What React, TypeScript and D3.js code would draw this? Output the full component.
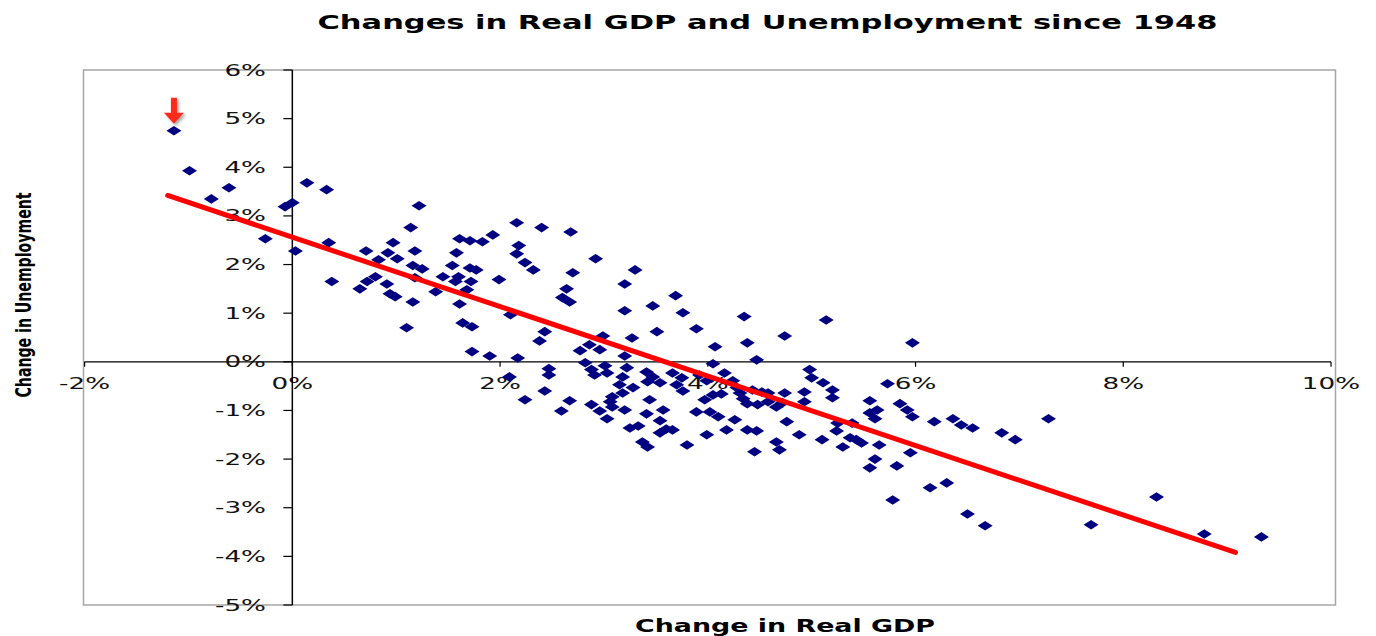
import React from "react";
import * as d3 from "d3";

// Change in real GDP (%) for each observation
const gdpChange = [
  -1.14, -0.99, -0.61, -0.78, -0.07, 0.0, -0.26, 0.03, 0.14, 0.33, 0.35, 0.38, 0.65, 0.71, 0.72, 0.8, 0.83, 0.91,
  0.92, 0.97, 1.01, 0.94, 0.99, 1.14, 1.22, 1.18, 1.16, 1.25, 1.18, 1.16, 1.1, 1.38, 1.45, 1.54, 1.61, 1.71, 1.83, 1.93,
  1.58, 1.6, 1.57, 1.72, 1.71, 1.77, 1.68, 1.61, 1.64, 1.73, 1.73, 1.9, 1.99,
  2.1, 2.16, 2.4, 2.68, 2.18, 2.16, 2.24, 2.32, 2.17, 2.43, 2.38, 2.7, 2.64, 2.6, 2.67, 2.92, 3.2, 3.3, 3.2, 2.99,
  2.77, 2.86, 2.96, 3.27, 3.2, 3.69, 3.47, 3.76, 3.51, 3.89, 4.07, 4.05,
  4.35, 5.14, 4.74, 4.38, 5.97, 4.47,
  2.09, 2.24, 2.43, 2.47, 2.47, 2.59, 2.67, 2.82, 2.88, 2.91, 3.01, 3.03, 3.18, 3.22, 3.15, 3.28, 3.18, 3.08, 3.06, 2.88,
  2.96, 3.08, 3.03, 3.2, 3.25, 3.33, 3.41, 3.47, 3.54, 3.42, 3.44, 3.41, 3.57, 3.54, 3.37, 3.42, 3.54, 3.6, 3.66,
  3.66, 3.75, 3.7, 3.76, 3.92, 3.99, 4.16, 4.24, 4.28, 4.31, 4.34, 4.38, 4.43, 4.52, 4.58, 4.48, 4.58, 4.66, 4.72, 4.74,
  3.97, 4.05, 4.13, 3.89, 4.02, 4.1, 4.26, 4.76, 3.99, 4.18, 4.38, 4.47, 3.8, 4.66, 4.69, 4.45, 4.88,
  4.98, 5.0, 5.11, 5.2, 5.2, 4.93, 4.93, 5.56, 5.73, 5.85, 5.92, 5.97, 5.63, 5.56, 5.61, 6.18, 6.36, 6.44, 6.55, 5.25,
  5.24, 5.39, 5.1, 5.37, 5.43, 5.48, 5.3, 5.65, 5.95, 5.61, 5.56, 5.82, 5.78, 6.14, 6.3, 6.5, 6.67, 6.83, 6.96, 7.28,
  7.69, 8.32, 8.78, 9.33,
];

// Change in unemployment (%) for each observation
const unempChange = [
  4.75, 3.93, 3.58, 3.35, 3.19, 3.27, 2.53, 2.28, 3.68, 3.54, 2.45, 1.65, 1.5, 2.28, 1.65, 1.75, 2.1, 1.6,
  2.24, 2.45, 2.12, 1.4, 1.34, 2.76, 3.21, 2.28, 1.98, 1.91, 1.73, 1.23, 0.7, 1.44, 1.75, 1.98, 2.53, 2.49, 2.47, 2.61,
  2.24, 1.75, 1.65, 1.65, 1.93, 1.89, 1.48, 1.19, 0.8, 0.72, 0.21, 0.12, 1.69,
  0.97, 2.86, 2.76, 2.67, 2.39, 2.22, 2.04, 1.89, 0.08, 0.62, 0.43, 1.83, 1.5, 1.32, 1.23, 2.12, 1.6, 1.89, 1.05, 0.53,
  0.23, 0.35, 0.25, 0.49, 0.12, 1.36, 1.15, 1.01, 0.62, 0.68, 0.31, -0.04,
  0.93, 0.86, 0.53, 0.39, 0.39, 0.04,
  -0.31, -0.78, -0.6, -0.14, -0.27, -1.01, -0.8, -0.02, -0.16, -0.27, -0.08, -0.23, -0.31, -0.12, -0.47, -0.53, -0.64, -0.72, -0.82, -0.88,
  -1.01, -0.93, -1.17, -0.99, -1.36, -1.32, -0.21, -0.31, -0.43, -0.41, -0.78, -1.07, -0.99, -1.21, -1.65, -1.75, -1.46, -1.38, -1.4,
  -0.23, -0.33, -0.47, -0.6, -0.27, -0.39, -0.23, -0.39, -0.53, -0.64, -0.76, -0.86, -0.58, -0.62, -0.64, -0.88, -0.82, -0.93, -0.84, -0.64,
  -0.78, -0.68, -0.66, -1.03, -1.03, -1.13, -1.19, -1.23, -1.5, -1.4, -1.4, -1.42, -1.71, -1.65, -1.81, -1.85, -1.5,
  -0.16, -0.33, -0.43, -0.58, -0.74, -0.62, -0.82, -0.8, -0.45, -0.86, -0.99, -1.13, -0.99, -1.05, -1.17, -1.23, -1.17, -1.3, -1.36, -1.26,
  -1.42, -1.26, -1.6, -1.56, -1.6, -1.67, -1.75, -1.71, -1.87, -2.0, -2.18, -2.14, -2.84, -2.59, -2.49, -3.13, -3.37, -1.46, -1.6, -1.17,
  -3.35, -2.78, -3.54, -3.6,
];

// Fitted trend line end points (GDP %, unemployment %)
const trendGdp = [-1.2, 9.08];
const trendUnemp = [3.42, -3.92];

// Highlighted observation (red arrow)
const highlightGdp = -1.14;
const highlightUnemp = 4.75;

const xTickValues = [-2, 0, 2, 4, 6, 8, 10];
const yTickValues = [6, 5, 4, 3, 2, 1, 0, -1, -2, -3, -4, -5];

const titleText = "Changes in Real GDP and Unemployment since 1948";
const xAxisTitle = "Change in Real GDP";
const yAxisTitle = "Change in Unemployment";

const W = 1376;
const H = 636;
const SX = 1.75; // horizontal stretch of the text glyphs

export default function App() {
  const x = d3.scaleLinear().domain([-2, 10]).range([84.6, 1331]);
  const y = d3.scaleLinear().domain([-5, 6]).range([605, 70]);

  const points = gdpChange.map((g, i) => ({ g, u: unempChange[i] }));
  const line = d3
    .line<number>()
    .x((d) => x(trendGdp[d]))
    .y((d) => y(trendUnemp[d]))([0, 1]) as string;

  const dw = 7.5;
  const dh = 4.8;
  const diamond = (cx: number, cy: number) =>
    `M${cx - dw},${cy}L${cx},${cy - dh}L${cx + dw},${cy}L${cx},${cy + dh}Z`;

  const ax = x(highlightGdp);
  const ay = y(highlightUnemp);
  const arrow = `M${ax - 3},${ay - 33}L${ax + 3},${ay - 33}L${ax + 3},${ay - 18}L${ax + 10},${ay - 18}L${ax},${ay - 7}L${ax - 10},${ay - 18}L${ax - 3},${ay - 18}Z`;

  const font = "'DejaVu Sans', Verdana, sans-serif";
  const x0 = x(0);
  const y0 = y(0);

  return (
    <svg
      width={W}
      height={H}
      style={{ position: "absolute", left: 0, top: 0, background: "#fff" }}
    >
      <defs>
        <filter id="shadow" x="-50%" y="-50%" width="200%" height="200%">
          <feDropShadow dx="2" dy="2" stdDeviation="1.5" floodColor="#000" floodOpacity="0.35" />
        </filter>
      </defs>
      <rect x={0} y={0} width={W} height={H} fill="#fff" />

      {/* title */}
      <text
        x={767.5}
        y={29}
        textAnchor="middle"
        fontFamily={font}
        fontWeight="bold"
        fontSize={19}
        textLength={900}
        lengthAdjust="spacingAndGlyphs"
        fill="#000"
      >
        {titleText}
      </text>

      {/* plot border */}
      <rect x={83.5} y={70} width={1252} height={535} fill="none" stroke="#a6a6a6" strokeWidth={1.5} />

      {/* x axis */}
      <line x1={x(-2)} x2={x(10)} y1={y0} y2={y0} stroke="#000" strokeWidth={1.2} />
      {xTickValues.map((v) => (
        <g key={"xt" + v}>
          <line x1={x(v)} x2={x(v)} y1={y0} y2={y0 + 5} stroke="#000" strokeWidth={1.2} />
          <text
            transform={`translate(${x(v)},${y0 + 27}) scale(${SX},1)`}
            textAnchor="middle"
            fontFamily={font}
            fontSize={15}
            fill="#111"
          >
            {`${v}%`}
          </text>
        </g>
      ))}

      {/* y axis */}
      <line x1={x0} x2={x0} y1={y(6)} y2={y(-5)} stroke="#000" strokeWidth={1.5} />
      {yTickValues.map((v) => (
        <g key={"yt" + v}>
          <line x1={x0 - 9} x2={x0} y1={y(v)} y2={y(v)} stroke="#000" strokeWidth={1.2} />
          <text
            transform={`translate(266,${y(v) + 5.5}) scale(${SX},1)`}
            textAnchor="end"
            fontFamily={font}
            fontSize={15}
            fill="#111"
          >
            {`${v}%`}
          </text>
        </g>
      ))}

      {/* points */}
      <g fill="#000080">
        {points.map((p, i) => (
          <path key={i} d={diamond(x(p.g), y(p.u))} />
        ))}
      </g>

      {/* trend line */}
      <path d={line} stroke="#ff0000" strokeWidth={5} fill="none" strokeLinecap="round" />

      {/* arrow */}
      <path d={arrow} fill="#ff2a1a" filter="url(#shadow)" />

      {/* axis titles */}
      <text
        x={785}
        y={632}
        textAnchor="middle"
        fontFamily={font}
        fontWeight="bold"
        fontSize={18}
        textLength={300}
        lengthAdjust="spacingAndGlyphs"
        fill="#000"
      >
        {xAxisTitle}
      </text>
      <text
        transform={`translate(31,295) scale(1.55,1) rotate(-90)`}
        textAnchor="middle"
        fontFamily={font}
        fontWeight="bold"
        fontSize={14}
        textLength={205}
        lengthAdjust="spacingAndGlyphs"
        fill="#000"
      >
        {yAxisTitle}
      </text>
    </svg>
  );
}
